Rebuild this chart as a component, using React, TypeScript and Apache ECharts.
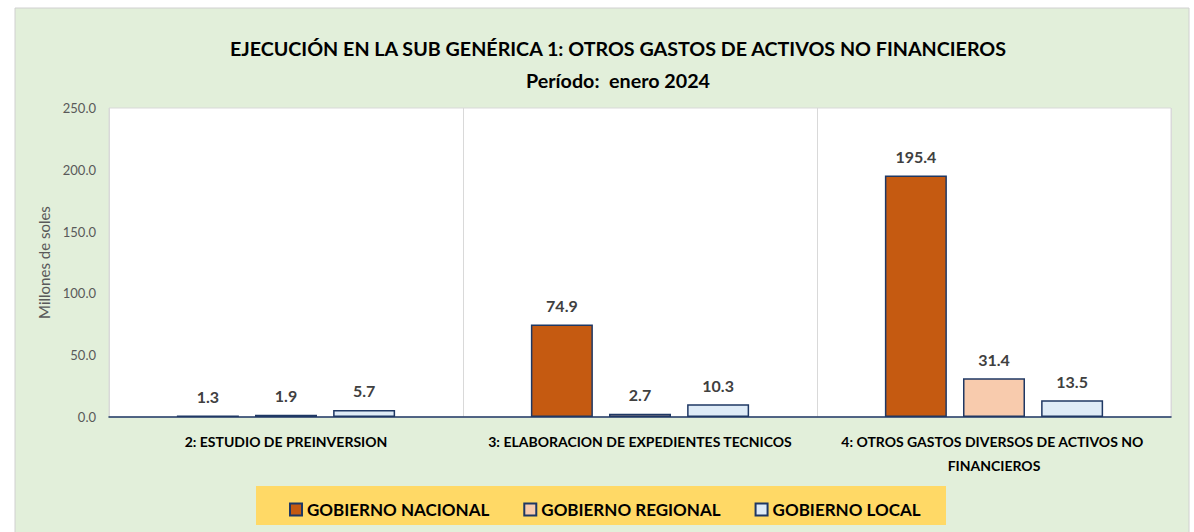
import React, { useEffect, useRef } from "react";
import * as echarts from "echarts";

const categories = [
  "2: ESTUDIO DE PREINVERSION",
  "3: ELABORACION DE EXPEDIENTES TECNICOS",
  "4: OTROS GASTOS DIVERSOS DE ACTIVOS NO FINANCIEROS",
];
const seriesNames = ["GOBIERNO NACIONAL", "GOBIERNO REGIONAL", "GOBIERNO LOCAL"];
const nacional = [1.3, 74.9, 195.4];
const regional = [1.9, 2.7, 31.4];
const local = [5.7, 10.3, 13.5];
const colors = ["#C55A11", "#F8CBAD", "#DEEBF7"];
const yTicks = { min: 0, max: 250, interval: 50 };

const FONT = "Lato, 'Open Sans', sans-serif";
const NAVY = "#1F3864";

export default function App() {
  const ref = useRef<HTMLDivElement>(null);
  useEffect(() => {
    if (!ref.current) return;
    const chart = echarts.init(ref.current, null, { renderer: "svg" });
    const data = [nacional, regional, local];
    chart.setOption({
      animation: false,
      backgroundColor: "#FFFFFF",
      textStyle: { fontFamily: FONT },
      graphic: [
        {
          type: "rect",
          z: -10,
          silent: true,
          shape: { x: 15, y: 8, width: 1174, height: 530 },
          style: { fill: "#E2EFDA", stroke: "#D0D0D0", lineWidth: 1 },
        },
        {
          type: "rect",
          z: -5,
          silent: true,
          shape: { x: 256, y: 486, width: 690, height: 39 },
          style: { fill: "#FFD966" },
        },
      ],
      title: [
        {
          text: "EJECUCIÓN EN LA SUB GENÉRICA 1: OTROS GASTOS DE ACTIVOS NO FINANCIEROS",
          left: 613,
          top: 33,
          textAlign: "center",
          textStyle: { fontFamily: FONT, fontSize: 19.7, fontWeight: "bold", color: "#000000" },
        },
        {
          text: "Período:  enero 2024",
          left: 613,
          top: 65,
          textAlign: "center",
          textStyle: { fontFamily: FONT, fontSize: 19.7, fontWeight: "bold", color: "#000000" },
        },
      ],
      legend: {
        left: 284,
        top: 496,
        itemGap: 34,
        itemWidth: 12,
        itemHeight: 12,
        icon: "rect",
        textStyle: { fontFamily: FONT, fontSize: 17, fontWeight: "bold", color: "#000000" },
        data: seriesNames,
      },
      grid: {
        left: 109,
        top: 108,
        width: 1062,
        height: 309,
        show: true,
        backgroundColor: "#FFFFFF",
        borderColor: "#D9D9D9",
        borderWidth: 1,
      },
      xAxis: {
        type: "category",
        data: categories,
        axisLine: { show: true, lineStyle: { color: NAVY, width: 1.5 } },
        axisTick: { show: false },
        splitLine: { show: true, lineStyle: { color: "#D9D9D9", width: 1 } },
        axisLabel: {
          interval: 0,
          margin: 12,
          fontFamily: FONT,
          fontSize: 14,
          fontWeight: "bold",
          color: "#000000",
          lineHeight: 24,
          width: 330,
          overflow: "break",
        },
      },
      yAxis: {
        type: "value",
        min: yTicks.min,
        max: yTicks.max,
        interval: yTicks.interval,
        name: "Millones de soles",
        nameLocation: "middle",
        nameRotate: 90,
        nameGap: 51,
        nameTextStyle: { fontFamily: FONT, fontSize: 15, color: "#595959" },
        axisLine: { show: false },
        axisTick: { show: false },
        splitLine: { show: false },
        axisLabel: {
          margin: 13,
          fontFamily: FONT,
          fontSize: 13,
          color: "#595959",
          formatter: (v: number) => v.toFixed(1),
        },
      },
      series: seriesNames.map((name, i) => ({
        name,
        type: "bar",
        data: data[i],
        barWidth: 62,
        barGap: "26%",
        itemStyle: { color: colors[i], borderColor: NAVY, borderWidth: 1.5 },
        label: {
          show: true,
          position: "top",
          distance: 11,
          fontFamily: FONT,
          fontSize: 16,
          fontWeight: "bold",
          color: "#404040",
          formatter: (p: any) => p.value.toFixed(1),
        },
      })),
    });
    return () => chart.dispose();
  }, []);
  return (
    <div
      ref={ref}
      style={{ position: "absolute", left: 0, top: 0, width: 1194, height: 532 }}
    />
  );
}
